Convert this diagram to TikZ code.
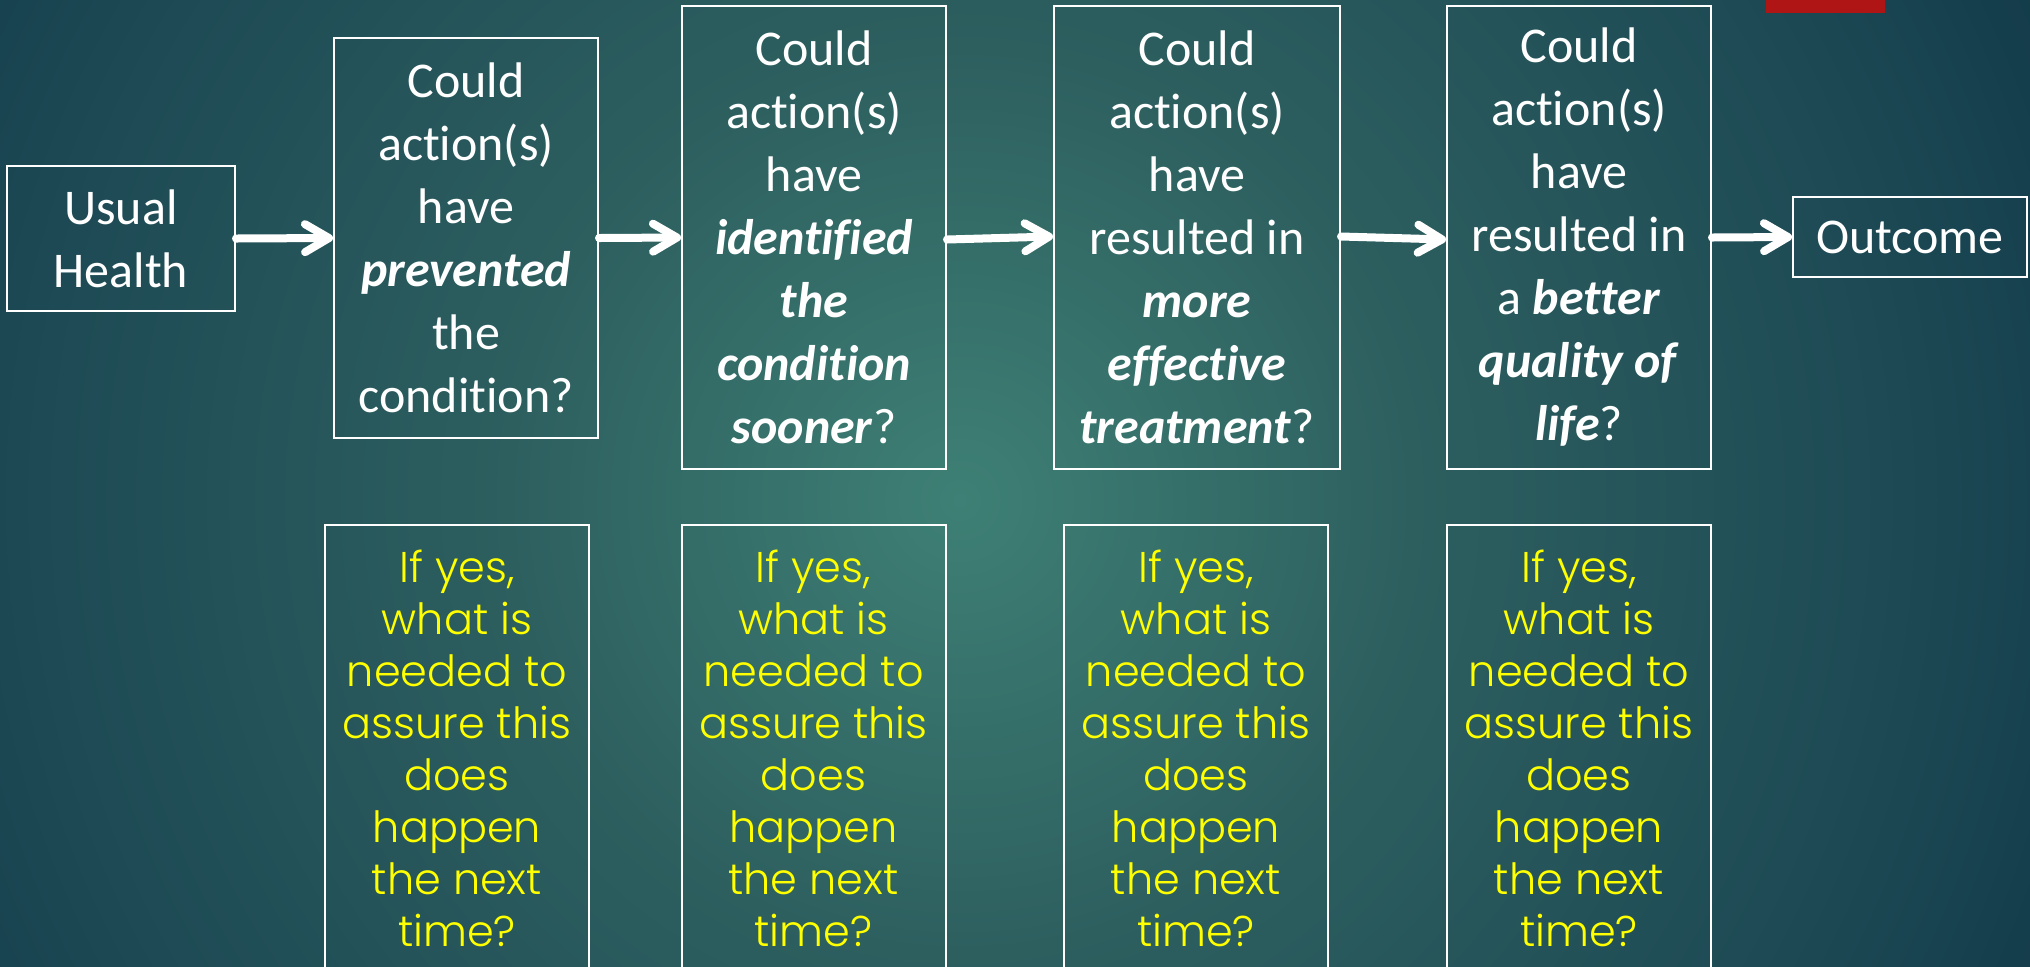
\documentclass[tikz,border=0pt]{standalone}
\usepackage{fontspec}
\setmainfont[Ligatures=NoCommon]{Carlito}
\newfontfamily\yfont{Poppins}[UprightFont=* Light]
\usetikzlibrary{arrows.meta}
\definecolor{bgA}{HTML}{3E8075}
\definecolor{bgB}{HTML}{2D5F5F}
\definecolor{bgC}{HTML}{1B4753}
\definecolor{bgD}{HTML}{153E4C}
\definecolor{bgE}{HTML}{123744}
\definecolor{redbar}{HTML}{B01515}
\definecolor{ytext}{HTML}{FFFF00}
\pgfdeclareradialshading{bgshade}{\pgfpoint{0bp}{0bp}}{color(0bp)=(bgA); color(8.7bp)=(bgB); color(19bp)=(bgC); color(22bp)=(bgD); color(25bp)=(bgE); color(50bp)=(bgE)}
\newcommand{\bix}[1]{\textbf{\textit{#1}}}
\tikzset{
  qbox/.style={draw=white, line width=1pt, inner sep=0pt, align=center, text=white,
    font={\fontsize{25}{31.5}\selectfont}},
  ybox/.style={draw=white, line width=1pt, inner sep=0pt, align=center, text=ytext,
    minimum width=132pt, minimum height=223pt,
    font={\yfont\fontsize{21.5}{26}\selectfont}},
  arr/.style={white, line width=4pt, line cap=round,
    -{Straight Barb[length=12pt, width=14pt, round]}}
}
\begin{document}
\begin{tikzpicture}[x=0.5pt, y=-0.5pt]
\useasboundingbox (0,0) rectangle (2030,966);
\begin{scope}
  \clip (0,0) rectangle (2030,966);
  \shade[shading=bgshade] (960,500) circle [radius=1300];
  \fill[redbar] (1766,-10) rectangle (1885,13);
  % top row
  \node[qbox, minimum width=114pt, minimum height=72.5pt] (uh) at (121,238.5) {Usual\\Health};
  \node[qbox, minimum width=132pt, minimum height=200pt] (q1) at (466,238) {Could\\action(s)\\have\\\bix{prevented}\\the\\condition?};
  \node[qbox, minimum width=132pt, minimum height=231.5pt] (q2) at (814,237.5) {Could\\action(s)\\have\\\bix{identified}\\\bix{the}\\\bix{condition}\\\bix{sooner}?};
  \node[qbox, minimum width=143pt, minimum height=231.5pt] (q3) at (1197,237.5) {Could\\action(s)\\have\\resulted in\\\bix{more}\\\bix{effective}\\\bix{treatment}?};
  \node[qbox, minimum width=132pt, minimum height=231.5pt] (q4) at (1579,237.5) {Could\\action(s)\\have\\resulted in\\a \bix{better}\\\bix{quality of}\\\bix{life}?};
  \node[qbox, minimum width=117pt, minimum height=40pt] (out) at (1910,237) {Outcome};
  % bottom row
  \node[ybox] (y1) at (457,748) {If yes,\\what is\\needed to\\assure this\\does\\happen\\the next\\time?};
  \node[ybox] (y2) at (813.5,748) {If yes,\\what is\\needed to\\assure this\\does\\happen\\the next\\time?};
  \node[ybox] (y3) at (1196,748) {If yes,\\what is\\needed to\\assure this\\does\\happen\\the next\\time?};
  \node[ybox] (y4) at (1579,748) {If yes,\\what is\\needed to\\assure this\\does\\happen\\the next\\time?};
  % arrows
  \draw[arr] (uh.east) -- (q1.west);
  \draw[arr] (q1.east) -- (q2.west);
  \draw[arr] ([yshift=-1pt]q2.east) -- ([yshift=0.5pt]q3.west);
  \draw[arr] ([yshift=0.5pt]q3.east) -- ([yshift=-1pt]q4.west);
  \draw[arr] (q4.east) -- (out.west);
\end{scope}
\end{tikzpicture}
\end{document}
